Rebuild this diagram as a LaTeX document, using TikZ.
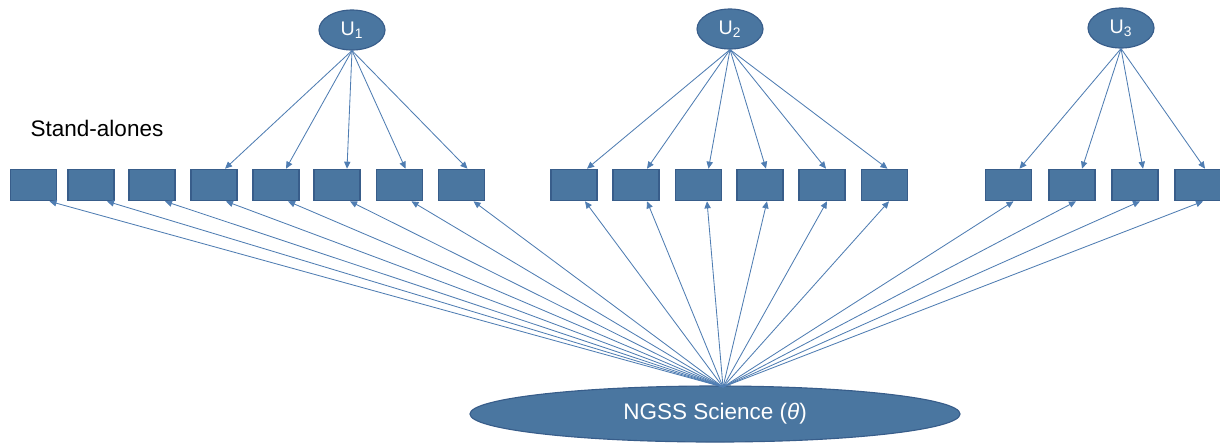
\documentclass[tikz,border=0pt]{standalone}
\usepackage{fontspec}
\setmainfont{Liberation Sans}
\usepackage{tikz}
\usetikzlibrary{calc}
\usetikzlibrary{shapes.geometric}
\usetikzlibrary{arrows.meta}
\definecolor{boxfill}{RGB}{74,118,160}
\definecolor{boxline}{RGB}{56,93,138}
\definecolor{arrcol}{RGB}{79,125,178}
\tikzset{item/.style = {shape=rectangle,draw=boxline,fill=boxfill,line width=1pt,minimum width=1.15cm,minimum height=0.78cm,inner sep=0pt}}
\tikzset{latent/.style = {shape=ellipse,draw=boxline,fill=boxfill,line width=0.8pt,inner sep=0pt,text=white}}
\tikzset{load/.style = {draw=arrcol,line width=0.6pt,-{Triangle[length=5pt,width=4.5pt]}}}

\begin{document}
\begin{tikzpicture}[x=0.025cm,y=-0.025cm]
                \useasboundingbox (0,0) rectangle (1220,443);

                \node[item] (I1) at (33.5,185) {};
                \node[item] (I2) at (91,185) {};
                \node[item] (I3) at (152,185) {};
                \node[item] (I4) at (214,185) {};
                \node[item] (I5) at (276,185) {};
                \node[item] (I6) at (337,185) {};
                \node[item] (I7) at (399.5,185) {};
                \node[item] (I8) at (461.5,185) {};
                \node[item] (I9) at (574,185) {};
                \node[item] (I10) at (636,185) {};
                \node[item] (I11) at (698.5,185) {};
                \node[item] (I12) at (760,185) {};
                \node[item] (I13) at (822,185) {};
                \node[item] (I14) at (884.5,185) {};
                \node[item] (I15) at (1008.5,185) {};
                \node[item] (I16) at (1072,185) {};
                \node[item] (I17) at (1135,185) {};
                \node[item] (I18) at (1198,185) {};

                \node[latent,minimum width=1.65cm,minimum height=1cm,font=\fontsize{14}{16}\selectfont] (U1) at (352,30) {U\textsubscript{1}};
                \node[latent,minimum width=1.65cm,minimum height=1cm,font=\fontsize{14}{16}\selectfont] (U2) at (730,29) {U\textsubscript{2}};
                \node[latent,minimum width=1.65cm,minimum height=1cm,font=\fontsize{14}{16}\selectfont] (U3) at (1121,28) {U\textsubscript{3}};
                \node[latent,minimum width=12.25cm,minimum height=1.4cm,font=\fontsize{16}{19}\selectfont] (T) at (715,414) {NGSS Science (\textit{θ})};
                \coordinate (H) at (723,387);

                \node[font=\fontsize{16}{19}\selectfont] (SA) at (97,128) {Stand-alones};

                \draw[load] (U1.south) -- ($(I4.north)+(11,0)$);
                \draw[load] (U1.south) -- ($(I5.north)+(10,0)$);
                \draw[load] (U1.south) -- ($(I6.north)+(10,0)$);
                \draw[load] (U1.south) -- ($(I7.north)+(6,0)$);
                \draw[load] (U1.south) -- ($(I8.north)+(6,0)$);

                \draw[load] (U2.south) -- ($(I9.north)+(13,0)$);
                \draw[load] (U2.south) -- ($(I10.north)+(11,0)$);
                \draw[load] (U2.south) -- ($(I11.north)+(10,0)$);
                \draw[load] (U2.south) -- ($(I12.north)+(6,0)$);
                \draw[load] (U2.south) -- ($(I13.north)+(4,0)$);
                \draw[load] (U2.south) -- ($(I14.north)+(3,0)$);

                \draw[load] (U3.south) -- ($(I15.north)+(11,0)$);
                \draw[load] (U3.south) -- ($(I16.north)+(10,0)$);
                \draw[load] (U3.south) -- ($(I17.north)+(8,0)$);
                \draw[load] (U3.south) -- ($(I18.north)+(7,0)$);

                \draw[load] (H) -- ($(I1.south)+(16,0)$);
                \draw[load] (H) -- ($(I2.south)+(16,0)$);
                \draw[load] (H) -- ($(I3.south)+(13,0)$);
                \draw[load] (H) -- ($(I4.south)+(12,0)$);
                \draw[load] (H) -- ($(I5.south)+(12,0)$);
                \draw[load] (H) -- ($(I6.south)+(13,0)$);
                \draw[load] (H) -- ($(I7.south)+(12,0)$);
                \draw[load] (H) -- ($(I8.south)+(12,0)$);
                \draw[load] (H) -- ($(I9.south)+(11,0)$);
                \draw[load] (H) -- ($(I10.south)+(11,0)$);
                \draw[load] (H) -- ($(I11.south)+(8.5,0)$);
                \draw[load] (H) -- ($(I12.south)+(7,0)$);
                \draw[load] (H) -- ($(I13.south)+(5,0)$);
                \draw[load] (H) -- ($(I14.south)+(4.5,0)$);
                \draw[load] (H) -- ($(I15.south)+(5,0)$);
                \draw[load] (H) -- ($(I16.south)+(4,0)$);
                \draw[load] (H) -- ($(I17.south)+(5,0)$);
                \draw[load] (H) -- ($(I18.south)+(5,0)$);
            \end{tikzpicture}
\end{document}
